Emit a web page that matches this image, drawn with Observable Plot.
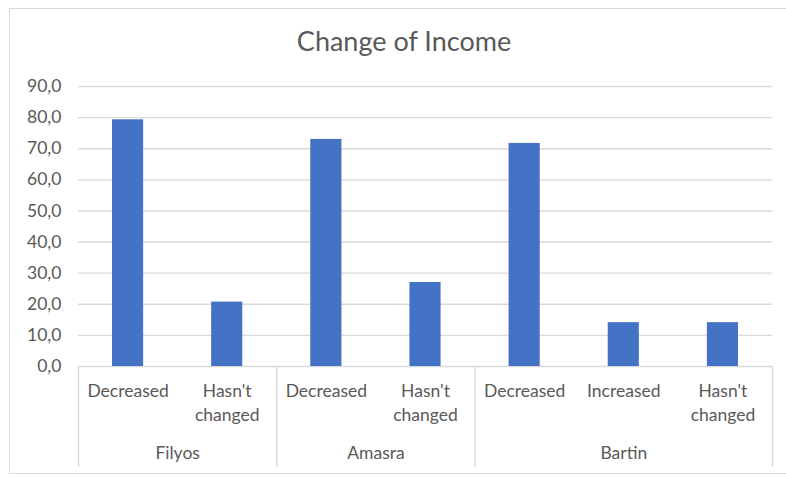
<!DOCTYPE html>
<html>
<head>
<meta charset="utf-8">
<script src="https://cdn.jsdelivr.net/npm/d3@7"></script>
<script src="https://cdn.jsdelivr.net/npm/@observablehq/plot@0.6"></script>
<style>
  html, body { margin: 0; padding: 0; background: #fff; overflow: hidden; }
  #wrap { position: relative; width: 786px; height: 477px; }
  #border { position: absolute; left: 9px; top: 8px; width: 800px; height: 466px; border: 1px solid #d9d9d9; box-sizing: border-box; }
  #title { position: absolute; left: 10px; width: 788px; top: 24px; height: 34px; line-height: 34px; text-align: center;
           font-family: Lato, sans-serif; font-size: 27px; color: #595959; }
  #plot { position: absolute; left: 0; top: 0; }
</style>
</head>
<body>
<div id="wrap">
  <div id="border"></div>
  <div id="title">Change of Income</div>
  <div id="plot"></div>
</div>
<script>
const groupNames = ["Filyos", "Filyos", "Amasra", "Amasra", "Bartin", "Bartin", "Bartin"];
const categories = ["Decreased", "Hasn't\nchanged", "Decreased", "Hasn't\nchanged", "Decreased", "Increased", "Hasn't\nchanged"];
const values = [79.3, 20.7, 73.0, 27.0, 71.7, 14.1, 14.1];
const yTicks = [0, 10, 20, 30, 40, 50, 60, 70, 80, 90];

const rows = categories.map((c, i) => ({i, cat: c, group: groupNames[i], value: values[i]}));
const groups = Array.from(d3.group(rows, d => d.group), ([name, rs]) => ({
  name,
  start: d3.min(rs, d => d.i),
  end: d3.max(rs, d => d.i) + 1
}));
const boundaries = [...groups.map(g => g.start), groups[groups.length - 1].end];

const textColor = "#595959";
const gridColor = "#d9d9d9";
const fontSize = 17.5;

const chart = Plot.plot({
  width: 786,
  height: 477,
  marginTop: 86,
  marginBottom: 111,
  marginLeft: 78,
  marginRight: 14,
  style: {fontFamily: "Lato, sans-serif", fontSize: fontSize + "px", color: textColor, background: "transparent", overflow: "visible"},
  x: {domain: [0, categories.length], axis: null},
  y: {domain: [0, 90], axis: null},
  marks: [
    Plot.ruleY(yTicks, {stroke: gridColor, strokeWidth: 1.4}),
    Plot.rectY(rows, {x1: d => d.i, x2: d => d.i + 1, y: "value", fill: "#4472C4", insetLeft: 34, insetRight: 34}),
    Plot.axisY({ticks: yTicks, label: null, tickSize: 0, tickPadding: 17, tickFormat: d => d.toFixed(1).replace(".", ","), fill: textColor, fontSize: fontSize}),
    Plot.ruleX(boundaries, {x: d => d, stroke: gridColor, strokeWidth: 1.4, insetTop: 280, insetBottom: -101}),
    Plot.text(rows, {x: d => d.i + 0.5, text: "cat", frameAnchor: "bottom", lineAnchor: "top", dy: 13.5, lineHeight: 24 / fontSize, fill: textColor, fontSize: fontSize}),
    Plot.text(groups, {x: d => (d.start + d.end) / 2, text: "name", frameAnchor: "bottom", lineAnchor: "top", dy: 80, fill: textColor, fontSize: fontSize})
  ]
});
document.getElementById("plot").appendChild(chart);
</script>
</body>
</html>
